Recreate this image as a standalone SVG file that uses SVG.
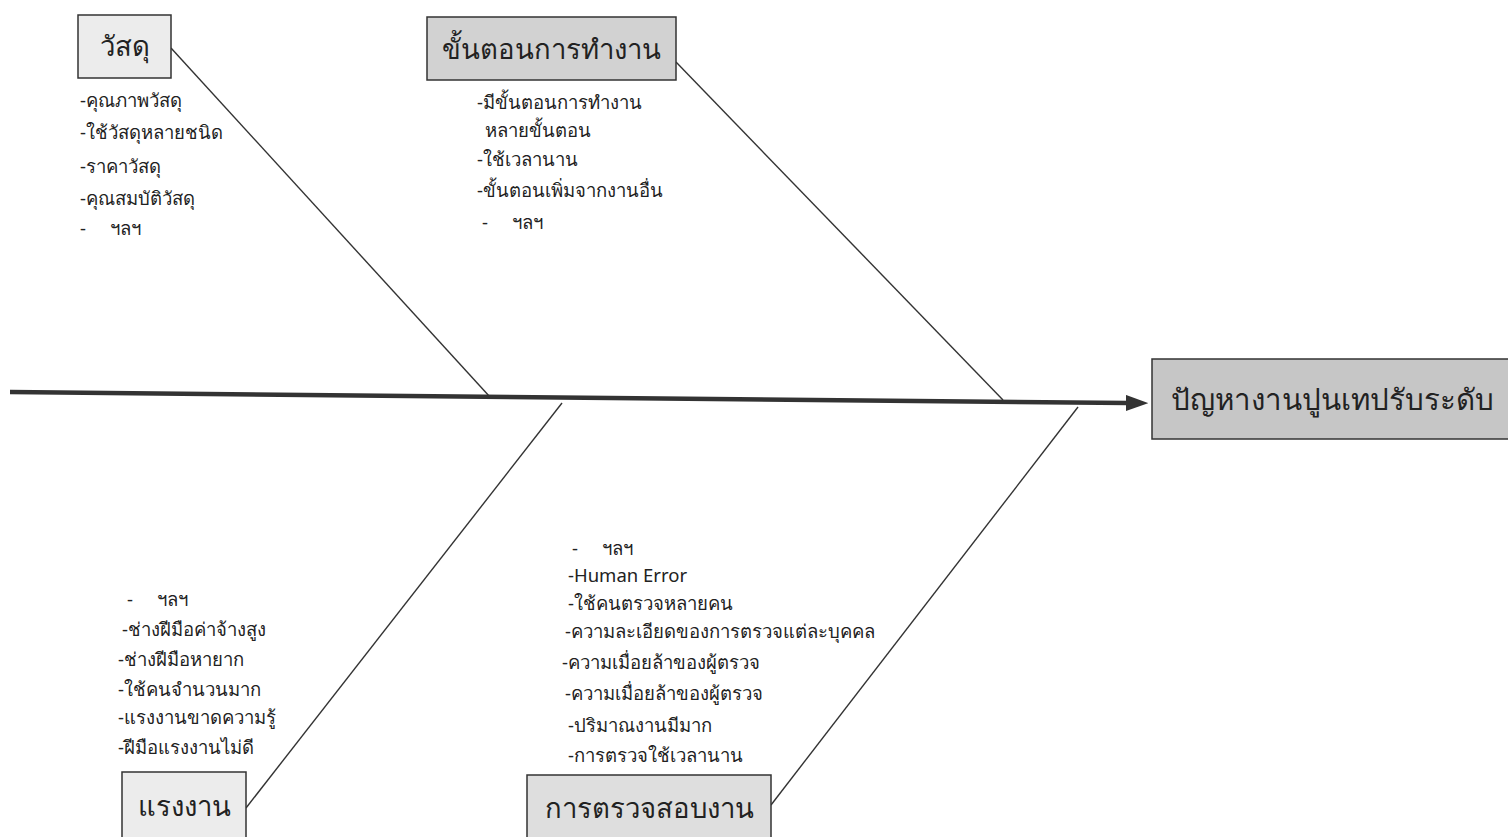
<svg xmlns="http://www.w3.org/2000/svg" width="1508" height="837" viewBox="0 0 1508 837">
<style>
.box{stroke:#333;stroke-width:1.5}
.t{font-family:"Noto Sans","DejaVu Sans",sans-serif;fill:#222}
.it{font-size:18.5px}
.lbl{font-size:27.5px;text-anchor:middle}
.ln{stroke:#333;stroke-width:1.4;fill:none}
</style>
<defs>
<marker id="ah" markerWidth="5" markerHeight="3.6" refX="0.5" refY="1.8" orient="auto" markerUnits="strokeWidth">
<path d="M0,0 L5,1.8 L0,3.6 z" fill="#333"/>
</marker>
</defs>
<rect width="1508" height="837" fill="#fff"/>
<g id="connectors">
<line x1="10" y1="392" x2="1128" y2="403" stroke="#333" stroke-width="4.5" marker-end="url(#ah)"/>
<line class="ln" x1="171" y1="48" x2="490" y2="397"/>
<line class="ln" x1="676" y1="62" x2="1003" y2="400"/>
<line class="ln" x1="562" y1="403" x2="246" y2="808"/>
<line class="ln" x1="1078" y1="407" x2="771" y2="805"/>
</g>
<g id="node-main">
<rect class="box" x="1152" y="359" width="360" height="80" fill="#c6c6c6"/>
<text class="t" x="1332" y="410" font-size="29.5" text-anchor="middle">ปัญหางานปูนเทปรับระดับ</text>
</g>
<g id="node-material">
<rect class="box" x="78" y="15" width="93" height="63" fill="#ececec"/>
<text class="t lbl" x="124.5" y="56">วัสดุ</text>
<text class="t it" x="80" y="107">-คุณภาพวัสดุ</text>
<text class="t it" x="80" y="139">-ใช้วัสดุหลายชนิด</text>
<text class="t it" x="80" y="173">-ราคาวัสดุ</text>
<text class="t it" x="80" y="205">-คุณสมบัติวัสดุ</text>
<text class="t it" x="80" y="235" xml:space="preserve">-     ฯลฯ</text>
</g>
<g id="node-process">
<rect class="box" x="427" y="17" width="249" height="63" fill="#d2d2d2"/>
<text class="t lbl" x="551.5" y="59">ขั้นตอนการทำงาน</text>
<text class="t it" x="477" y="109">-มีขั้นตอนการทำงาน</text>
<text class="t it" x="485" y="137">หลายขั้นตอน</text>
<text class="t it" x="477" y="166">-ใช้เวลานาน</text>
<text class="t it" x="477" y="197">-ขั้นตอนเพิ่มจากงานอื่น</text>
<text class="t it" x="482" y="229" xml:space="preserve">-     ฯลฯ</text>
</g>
<g id="node-labor">
<rect class="box" x="122" y="772" width="124" height="70" fill="#ececec"/>
<text class="t lbl" x="184" y="816">แรงงาน</text>
<text class="t it" x="127" y="606" xml:space="preserve">-     ฯลฯ</text>
<text class="t it" x="122" y="636">-ช่างฝีมือค่าจ้างสูง</text>
<text class="t it" x="118" y="666">-ช่างฝีมือหายาก</text>
<text class="t it" x="118" y="696">-ใช้คนจำนวนมาก</text>
<text class="t it" x="118" y="724">-แรงงานขาดความรู้</text>
<text class="t it" x="118" y="754">-ฝีมือแรงงานไม่ดี</text>
</g>
<g id="node-inspection">
<rect class="box" x="527" y="775" width="244" height="67" fill="#dedede"/>
<text class="t lbl" x="649" y="818">การตรวจสอบงาน</text>
<text class="t it" x="572" y="555" xml:space="preserve">-     ฯลฯ</text>
<text class="t it" x="568" y="582">-Human Error</text>
<text class="t it" x="568" y="610">-ใช้คนตรวจหลายคน</text>
<text class="t it" x="565" y="638">-ความละเอียดของการตรวจแต่ละบุคคล</text>
<text class="t it" x="562" y="669">-ความเมื่อยล้าของผู้ตรวจ</text>
<text class="t it" x="565" y="700">-ความเมื่อยล้าของผู้ตรวจ</text>
<text class="t it" x="568" y="732">-ปริมาณงานมีมาก</text>
<text class="t it" x="568" y="762">-การตรวจใช้เวลานาน</text>
</g>
</svg>
